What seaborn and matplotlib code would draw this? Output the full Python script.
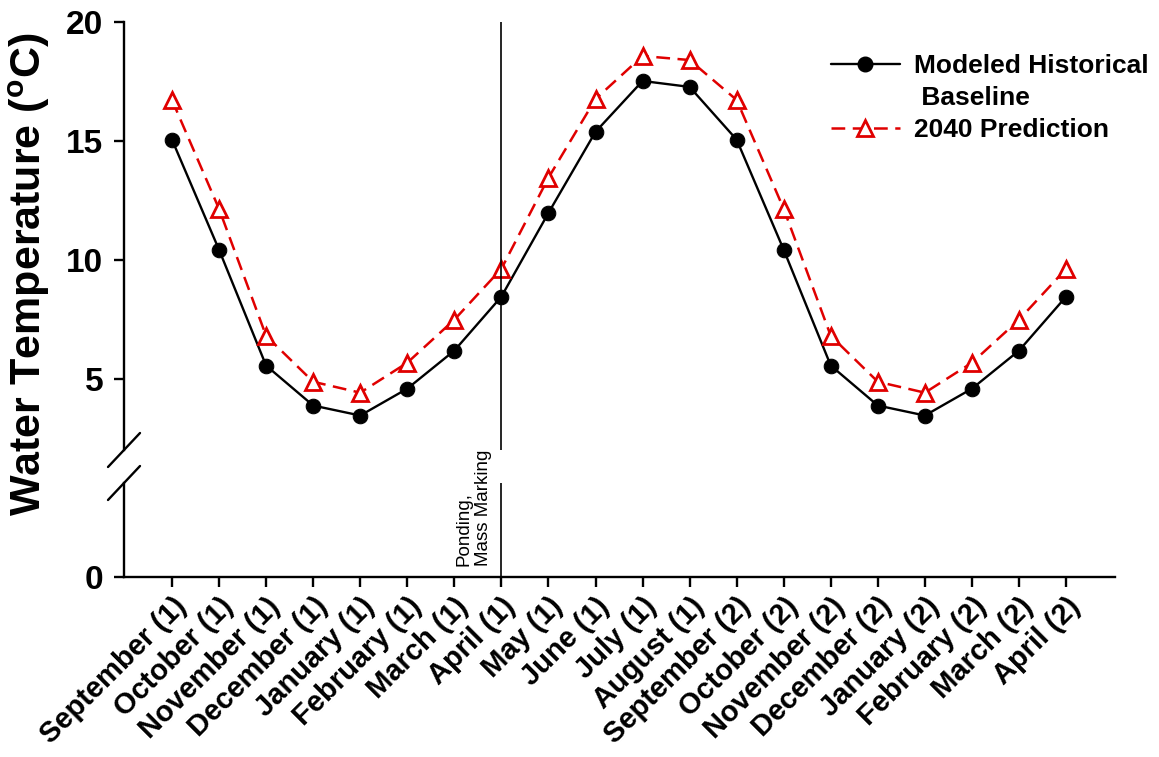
import numpy as np
import pandas as pd
import matplotlib
matplotlib.use("Agg")
import matplotlib.pyplot as plt
import matplotlib.transforms as mtransforms
from matplotlib.lines import Line2D
import seaborn as sns

months = ["September (1)", "October (1)", "November (1)", "December (1)",
          "January (1)", "February (1)", "March (1)", "April (1)", "May (1)",
          "June (1)", "July (1)", "August (1)", "September (2)", "October (2)",
          "November (2)", "December (2)", "January (2)", "February (2)",
          "March (2)", "April (2)"]
baseline = [15.05, 10.42, 5.55, 3.87, 3.45, 4.58, 6.18, 8.45, 11.97, 15.38,
            17.52, 17.27, 15.05, 10.42, 5.55, 3.87, 3.45, 4.58, 6.18, 8.45]
pred2040 = [16.72, 12.14, 6.80, 4.87, 4.41, 5.67, 7.48, 9.62, 13.45, 16.76,
            18.57, 18.40, 16.72, 12.14, 6.80, 4.87, 4.41, 5.67, 7.48, 9.62]
series_names = ["Modeled Historical", " Baseline", "2040 Prediction"]
event_month = "April (1)"
event_label = "Ponding,\nMass Marking"
y_label = r"Water Temperature ($\mathbf{^{o}}$C)"
top_ticks = [5, 10, 15, 20]
bottom_ticks = [0]

sns.set_style("ticks")
plt.rcParams["font.family"] = ["Liberation Sans", "DejaVu Sans"]
plt.rcParams["font.weight"] = "bold"
plt.rcParams["mathtext.fontset"] = "custom"
plt.rcParams["mathtext.rm"] = "Liberation Sans:bold"
plt.rcParams["mathtext.bf"] = "Liberation Sans:bold"
for k in ("text.color", "axes.labelcolor", "xtick.color", "ytick.color",
          "axes.edgecolor"):
    plt.rcParams[k] = "black"

W, H = 1159, 757
fig = plt.figure(figsize=(W / 100, H / 100), dpi=100)
left_px, right_px = 124, 1115
ax_top = fig.add_axes([left_px / W, 1 - 450 / H, (right_px - left_px) / W, (450 - 22) / H])
ax_bot = fig.add_axes([left_px / W, 1 - 577 / H, (right_px - left_px) / W, (577 - 483) / H],
                      sharex=ax_top)

x = np.arange(len(months))
df = pd.DataFrame({"x": x, "baseline": baseline, "pred": pred2040})

red = "#e00000"
sns.lineplot(data=df, x="x", y="baseline", ax=ax_top, color="black", lw=1.7,
             marker="o", markersize=10.5, markeredgecolor="black", legend=False)
sns.lineplot(data=df, x="x", y="pred", ax=ax_top, color=red, lw=1.8,
             linestyle=(0, (5.5, 3)), marker="^", markersize=11.5,
             markerfacecolor="white", markeredgecolor=red, markeredgewidth=2,
             legend=False)

ax_top.set_ylim(2, 20)
ax_bot.set_ylim(0, 3.95)
ax_top.set_xlim(-1.02, 20.04)

ev = months.index(event_month)
for a in (ax_top, ax_bot):
    a.axvline(ev, color="black", lw=1.2)
    a.spines["top"].set_visible(False)
    a.spines["right"].set_visible(False)
    a.spines["left"].set_linewidth(1.7)
    a.set_xlabel("")
    a.set_ylabel("")
    a.tick_params(axis="both", direction="out", length=7, width=1.7,
                  labelsize=24, pad=8)

ax_top.spines["bottom"].set_visible(False)
ax_top.tick_params(axis="x", bottom=False, labelbottom=False)
ax_top.set_yticks(top_ticks)
ax_bot.set_yticks(bottom_ticks)
ax_bot.spines["bottom"].set_linewidth(1.7)
ax_bot.set_xticks(x)
ax_bot.set_xticklabels(months, rotation=45, ha="right", rotation_mode="anchor",
                       fontweight="bold")
ax_bot.tick_params(axis="x", pad=4, labelsize=21)

# axis break marks
wpx = right_px - left_px
dx = 16 / wpx
dy_t = 17 / (450 - 22)
dy_b = 17 / (577 - 483)
ax_top.plot([-dx, dx], [-dy_t, dy_t], transform=ax_top.transAxes, color="black",
            lw=1.7, clip_on=False)
ax_bot.plot([-dx, dx], [1 - dy_b, 1 + dy_b], transform=ax_bot.transAxes, color="black",
            lw=1.7, clip_on=False)

# event annotation
trans = mtransforms.blended_transform_factory(ax_bot.transData, ax_bot.transAxes)
ax_bot.text(ev - 0.2, 0.12, event_label, transform=trans, rotation=90,
            ha="right", va="bottom", fontsize=13.5, fontweight="normal",
            multialignment="left", clip_on=False)

fig.text(29 / W, 1 - 274 / H, y_label, rotation=90, ha="center", va="center",
         fontsize=31, fontweight="bold")

handles = [
    Line2D([], [], color="black", lw=1.7, marker="o", markersize=10.5),
    Line2D([], [], color="none"),
    Line2D([], [], color=red, lw=1.8, linestyle=(0, (5.5, 3)), marker="^",
           markersize=11.5, markerfacecolor="white", markeredgecolor=red,
           markeredgewidth=2),
]
fig.legend(handles, series_names, loc="upper left",
           bbox_to_anchor=(831 / W, 1 - 54 / H), frameon=False,
           prop={"size": 19, "weight": "bold"}, handlelength=2.6,
           handletextpad=0.55, labelspacing=0.3, borderpad=0, borderaxespad=0)

fig.savefig("out.png", dpi=100)
